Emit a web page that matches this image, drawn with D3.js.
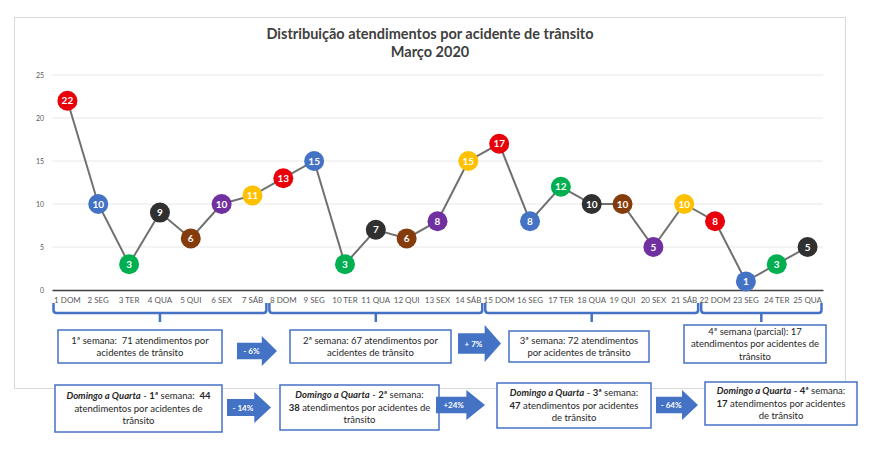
<!DOCTYPE html>
<html>
<head>
<meta charset="utf-8">
<script src="https://cdn.jsdelivr.net/npm/d3@7"></script>
<style>
  body { margin: 0; background: #fff; }
  text { font-family: Lato, "Open Sans", sans-serif; }
</style>
</head>
<body>
<svg id="chart" width="880" height="467"></svg>
<script>
// dias de março 2020 e atendimentos
var days = ["1 DOM", "2 SEG", "3 TER", "4 QUA", "5 QUI", "6 SEX", "7 SÁB",
    "8 DOM", "9 SEG", "10 TER", "11 QUA", "12 QUI", "13 SEX", "14 SÁB",
    "15 DOM", "16 SEG", "17 TER", "18 QUA", "19 QUI", "20 SEX", "21 SÁB",
    "22 DOM", "23 SEG", "24 TER", "25 QUA"];
var values = [22, 10, 3, 9, 6, 10, 11, 13, 15, 3, 7, 6, 8, 15, 17, 8, 12, 10, 10, 5, 10, 8, 1, 3, 5];
var yTicks = [0, 5, 10, 15, 20, 25];
var weeks = [[0, 6], [7, 13], [14, 20], [21, 24]];

// textos das caixas: cada linha = lista de [texto, estilo]
var weekTexts = [
    [[["1ª semana:  71 atendimentos por", ""]], [["acidentes de trânsito", ""]]],
    [[["2ª semana: 67 atendimentos por", ""]], [["acidentes de trânsito", ""]]],
    [[["3ª semana: 72 atendimentos", ""]], [["por acidentes de trânsito", ""]]],
    [[["4ª semana (parcial): 17", ""]], [["atendimentos por acidentes de", ""]], [["trânsito", ""]]]
];
var weekChanges = ["- 6%", "+ 7%"];
var sunWedTexts = [
    [[["Domingo a Quarta", "bi"], [" - ", ""], ["1ª", "b"], [" semana:  ", ""], ["44", "b"]],
     [["atendimentos por acidentes de", ""]], [["trânsito", ""]]],
    [[["Domingo a Quarta", "bi"], [" - ", ""], ["2ª", "b"], [" semana:", ""]],
     [["38", "b"], [" atendimentos por acidentes de", ""]], [["trânsito", ""]]],
    [[["Domingo a Quarta", "bi"], [" - ", ""], ["3ª", "b"], [" semana:", ""]],
     [["47", "b"], [" atendimentos por acidentes", ""]], [["de trânsito", ""]]],
    [[["Domingo a Quarta", "bi"], [" - ", ""], ["4ª", "b"], [" semana:", ""]],
     [["17", "b"], [" atendimentos por acidentes", ""]], [["de trânsito", ""]]]
];
var sunWedChanges = ["- 14%", "+24%", "- 64%"];

var dayColors = ["#e8000b", "#4472c4", "#00b050", "#303030", "#843c0c", "#7030a0", "#ffc000"];
var blue = "#4472c4";

var svg = d3.select("#chart");

// moldura do gráfico
svg.append("rect")
    .attr("x", 14.5).attr("y", 17.5)
    .attr("width", 831).attr("height", 371)
    .attr("fill", "#fff").attr("stroke", "#d9d9d9");

svg.append("text")
    .attr("x", 430).attr("y", 39)
    .attr("text-anchor", "middle")
    .attr("font-size", 14.5).attr("font-weight", "bold").attr("fill", "#404040")
    .text("Distribuição atendimentos por acidente de trânsito");
svg.append("text")
    .attr("x", 430).attr("y", 57)
    .attr("text-anchor", "middle")
    .attr("font-size", 14.5).attr("font-weight", "bold").attr("fill", "#404040")
    .text("Março 2020");

var x = d3.scaleBand().domain(days).range([52, 823]).padding(0);
var y = d3.scaleLinear().domain([0, 25]).range([290, 75]);

// grade
svg.append("g").selectAll("line")
    .data(yTicks.filter(function (d) { return d > 0; }))
    .enter().append("line")
    .attr("x1", 52).attr("x2", 823)
    .attr("y1", function (d) { return y(d); })
    .attr("y2", function (d) { return y(d); })
    .attr("stroke", "#e8e8e8");

var yAxis = svg.append("g")
    .attr("transform", "translate(52,0)")
    .call(d3.axisLeft(y).tickValues(yTicks).tickSize(0).tickPadding(8));
yAxis.select(".domain").remove();
yAxis.selectAll("text").attr("font-size", 7).attr("fill", "#595959")
    .style("font-family", "Lato, sans-serif");

var xAxis = svg.append("g")
    .attr("transform", "translate(0," + y(0) + ")")
    .call(d3.axisBottom(x).tickSize(0).tickPadding(7));
xAxis.select(".domain").attr("stroke", "#404040").attr("stroke-width", 1.5);
xAxis.selectAll("text").attr("font-size", 8).attr("fill", "#595959")
    .style("font-family", "Lato, sans-serif");

// linha
var cx = function (d, i) { return x(days[i]) + x.bandwidth() / 2; };
svg.append("path")
    .datum(values)
    .attr("fill", "none")
    .attr("stroke", "#707070")
    .attr("stroke-width", 2)
    .attr("d", d3.line().x(cx).y(function (d) { return y(d); }));

var pts = svg.append("g").selectAll("g")
    .data(values).enter().append("g");
pts.append("circle")
    .attr("cx", cx)
    .attr("cy", function (d) { return y(d); })
    .attr("r", 10)
    .attr("fill", function (d, i) { return dayColors[i % 7]; });
pts.append("text")
    .attr("x", cx)
    .attr("y", function (d) { return y(d) + 3.5; })
    .attr("text-anchor", "middle")
    .attr("font-size", 10).attr("font-weight", "bold").attr("fill", "#fff")
    .text(function (d) { return d; });

// chaves das semanas
weeks.forEach(function (w) {
    var x0 = x(days[w[0]]) + 1.5;
    var x1 = x(days[w[1]]) + x.bandwidth() - 1.5;
    var xm = (x0 + x1) / 2;
    svg.append("path")
        .attr("d", "M" + x0 + ",303 L" + x0 + ",310 Q" + x0 + ",313 " + (x0 + 3) + ",313 L" + (x1 - 3) +
            ",313 Q" + x1 + ",313 " + x1 + ",310 L" + x1 + ",303 M" + xm + ",313 L" + xm + ",322")
        .attr("fill", "none").attr("stroke", blue).attr("stroke-width", 2.5);
});

function textBox(b, lines, lh, fs) {
    svg.append("rect")
        .attr("x", b[0]).attr("y", b[1]).attr("width", b[2]).attr("height", b[3])
        .attr("fill", "#fff").attr("stroke", blue).attr("stroke-width", 1.5);
    var y0 = b[1] + b[3] / 2 - (lines.length - 1) * lh / 2 + fs * 0.35;
    lines.forEach(function (line, k) {
        var t = svg.append("text")
            .attr("x", b[0] + b[2] / 2).attr("y", y0 + k * lh)
            .attr("text-anchor", "middle")
            .attr("font-size", fs).attr("fill", "#262626")
            .attr("xml:space", "preserve");
        line.forEach(function (seg) {
            t.append("tspan")
                .attr("font-weight", seg[1].indexOf("b") >= 0 ? "bold" : "normal")
                .attr("font-style", seg[1].indexOf("i") >= 0 ? "italic" : "normal")
                .text(seg[0]);
        });
    });
}

function arrow(a, label) {
    var xb = a[0], yb = a[1], w = a[2], h = a[3];
    var bx = xb + w * 0.62, bh = h * 0.55, ym = yb + h / 2;
    svg.append("path")
        .attr("d", "M" + xb + "," + (ym - bh / 2) + " L" + bx + "," + (ym - bh / 2) + " L" + bx + "," + yb +
            " L" + (xb + w) + "," + ym + " L" + bx + "," + (yb + h) + " L" + bx + "," + (ym + bh / 2) +
            " L" + xb + "," + (ym + bh / 2) + " Z")
        .attr("fill", blue);
    svg.append("text")
        .attr("x", xb + w * 0.36).attr("y", ym + 3)
        .attr("text-anchor", "middle")
        .attr("font-size", 8).attr("font-weight", "bold").attr("fill", "#fff")
        .text(label);
}

var weekBoxes = [[58, 330, 164, 33], [290, 330, 161, 33], [509, 331, 140, 31], [684, 325, 142, 38]];
var weekArrows = [[237, 336, 40, 30], [458, 325, 43, 37]];
var swBoxes = [[55, 385, 167, 47], [280, 385, 159, 45], [497, 383, 154, 45], [705, 382, 152, 43]];
var swArrows = [[227, 392, 44, 31], [436, 390, 49, 30], [656, 390, 42, 30]];

weekTexts.forEach(function (t, i) { textBox(weekBoxes[i], t, 12.5, 9.5); });
weekChanges.forEach(function (l, i) { arrow(weekArrows[i], l); });
sunWedTexts.forEach(function (t, i) { textBox(swBoxes[i], t, 12.5, 9.5); });
sunWedChanges.forEach(function (l, i) { arrow(swArrows[i], l); });
</script>
</body>
</html>
